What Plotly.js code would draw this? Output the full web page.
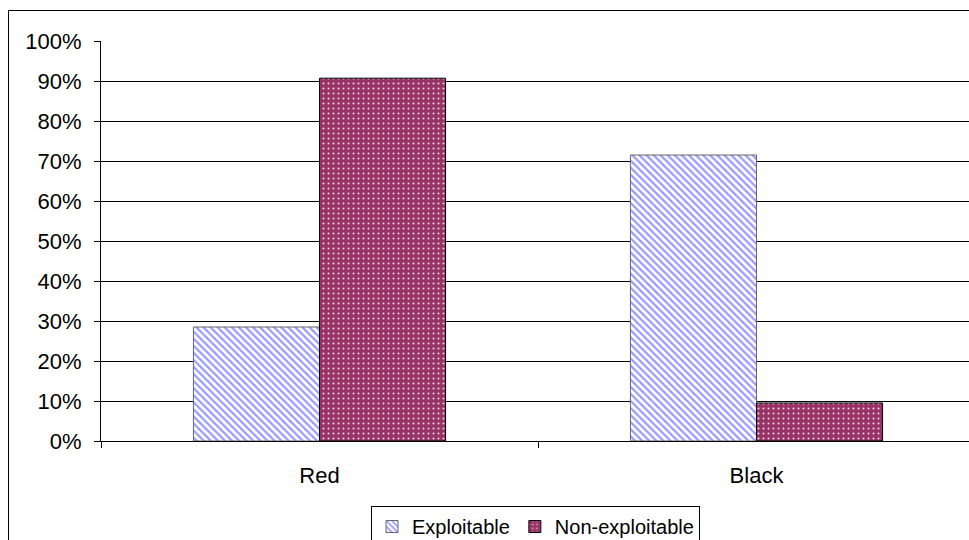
<!DOCTYPE html>
<html>
<head>
<meta charset="utf-8">
<script src="https://cdn.plot.ly/plotly-3.0.1.min.js"></script>
<style>
html,body{margin:0;padding:0;background:#fff;}
#chart{width:969px;height:540px;}
</style>
</head>
<body>
<div id="chart"></div>
<script>
var categories = ["Red", "Black"];
var exploitable = [0.285, 0.715];
var nonExploitable = [0.907, 0.095];
var yTickVals = [0, 0.1, 0.2, 0.3, 0.4, 0.5, 0.6, 0.7, 0.8, 0.9, 1.0];
var yTickText = ["0%", "10%", "20%", "30%", "40%", "50%", "60%", "70%", "80%", "90%", "100%"];

var font = "Arial, 'Liberation Sans', sans-serif";

var traces = [
  {
    type: "bar",
    name: "Exploitable",
    x: categories,
    y: exploitable,
    marker: {
      color: "#ffffff",
      line: {color: "#666666", width: 1},
      pattern: {shape: "\\", fgcolor: "#9999ff", bgcolor: "#ffffff", size: 5, solidity: 0.45, fillmode: "replace"}
    },
    hoverinfo: "skip"
  },
  {
    type: "bar",
    name: "Non-exploitable",
    x: categories,
    y: nonExploitable,
    marker: {
      color: "#993366",
      line: {color: "#000000", width: 1},
      pattern: {shape: ".", fgcolor: "#f4dbe8", bgcolor: "#993366", size: 5, solidity: 0.12, fillmode: "replace"}
    },
    hoverinfo: "skip"
  }
];

var plotW = 868, plotH = 400;
var layout = {
  width: 969,
  height: 540,
  margin: {l: 101, r: 0, t: 41, b: 99, autoexpand: false},
  paper_bgcolor: "#ffffff",
  plot_bgcolor: "#ffffff",
  font: {family: font, size: 22, color: "#000000"},
  barmode: "group",
  bargap: 0.423,
  bargroupgap: 0,
  showlegend: true,
  legend: {
    orientation: "h",
    xref: "container",
    yref: "container",
    x: 535.5 / 969,
    xanchor: "center",
    y: (540 - 506) / 540,
    yanchor: "top",
    bordercolor: "#000000",
    borderwidth: 1,
    bgcolor: "#ffffff",
    font: {family: font, size: 20, color: "#000000"},
    itemwidth: 30,
    tracegroupgap: 0
  },
  xaxis: {
    type: "category",
    range: [-0.5, 1.5 - 6 / 437],
    showline: true,
    linecolor: "#000000",
    linewidth: 1,
    ticks: "outside",
    tickson: "boundaries",
    ticklen: 6,
    tickcolor: "#000000",
    showgrid: false,
    zeroline: false,
    automargin: false,
    ticklabelstandoff: 15,
    tickfont: {family: font, size: 22, color: "#000000"}
  },
  yaxis: {
    range: [0, 1],
    tickvals: yTickVals,
    ticktext: yTickText,
    showline: true,
    linecolor: "#000000",
    linewidth: 1,
    ticks: "outside",
    ticklen: 6,
    tickcolor: "#000000",
    showgrid: true,
    gridcolor: "#000000",
    gridwidth: 1,
    zeroline: false,
    automargin: false,
    ticklabelstandoff: 8,
    tickfont: {family: font, size: 22, color: "#000000"}
  },
  shapes: [
    {
      type: "rect",
      xref: "paper",
      yref: "paper",
      x0: (8.5 - 101) / plotW,
      x1: (1000 - 101) / plotW,
      y0: -(600 - 441) / plotH,
      y1: (441 - 10.5) / plotH,
      line: {color: "#000000", width: 1},
      fillcolor: "rgba(0,0,0,0)",
      layer: "above"
    }
  ]
};

Plotly.newPlot("chart", traces, layout, {staticPlot: true, displayModeBar: false});
</script>
</body>
</html>
